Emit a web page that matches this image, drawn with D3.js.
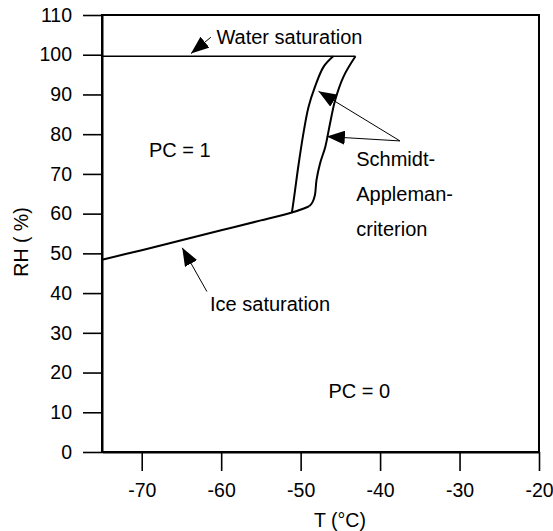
<!DOCTYPE html>
<html>
<head>
<meta charset="utf-8">
<script src="https://cdn.jsdelivr.net/npm/d3@7"></script>
<style>
  body { margin: 0; background: #fff; }
  text { font-family: "Liberation Sans", Arial, sans-serif; font-size: 19.5px; fill: #000; }
  .note { font-size: 20px; }
</style>
</head>
<body>
<svg id="chart" width="553" height="531"></svg>
<script>
// tick values
const xTicks = [-70, -60, -50, -40, -30, -20];
const yTicks = [0, 10, 20, 30, 40, 50, 60, 70, 80, 90, 100, 110];

// curves, [T (°C), RH (%)]
const waterSat = [[-75, 99.6], [-43.1, 99.6]];
const iceSat = [[-75, 48.4], [-70, 50.8], [-65, 53.3], [-60, 55.8], [-55, 58.3], [-51.1, 60.3], [-49.6, 61.3], [-48.9, 61.9]];
const saLeft = [[-51.1, 60.3], [-50.9, 63], [-50.7, 65.9], [-50.3, 71.8], [-49.65, 80.2], [-49.0, 86.9], [-48.2, 91.9], [-47.1, 97.0], [-45.9, 99.6]];
const saRight = [[-48.9, 61.9], [-48.5, 62.9], [-48.2, 64.7], [-48.0, 68.5], [-47.55, 72.7], [-46.9, 76.8], [-46.3, 82.7], [-45.65, 88.6], [-44.6, 94.5], [-43.1, 99.6]];

// annotation arrows: [tailT, tailRH, tipT, tipRH]
const arrows = [
    [-61.3, 104.4, -63.8, 100.3],
    [-61.8, 40.4, -64.9, 51.4],
    [-37.5, 78.3, -47.75, 90.8],
    [-37.5, 78.3, -46.7, 79.4]
];

// labels: [text, T, RH]
const labels = [
    ["Water saturation", -60.6, 102.8],
    ["Ice saturation", -61.4, 35.6],
    ["Schmidt-", -43.0, 72.0],
    ["Appleman-", -43.0, 63.2],
    ["criterion", -43.0, 54.4],
    ["PC = 1", -69.1, 74.3],
    ["PC = 0", -46.5, 13.5]
];

const width = 553, height = 531;
const margin = { top: 15, right: 14, bottom: 79, left: 102 };

const x = d3.scaleLinear()
    .domain([-75, -20])
    .range([margin.left, width - margin.right]);

const y = d3.scaleLinear()
    .domain([0, 110])
    .range([height - margin.bottom, margin.top]);

const svg = d3.select("#chart");

svg.append("defs").append("marker")
    .attr("id", "head")
    .attr("viewBox", "0 0 18 14")
    .attr("refX", 18)
    .attr("refY", 7)
    .attr("markerUnits", "userSpaceOnUse")
    .attr("markerWidth", 18)
    .attr("markerHeight", 14)
    .attr("orient", "auto")
    .append("path")
    .attr("d", "M0,0L18,7L0,14Z")
    .attr("fill", "#000");

// frame
svg.append("rect")
    .attr("x", x(-75))
    .attr("y", y(110))
    .attr("width", x(-20) - x(-75))
    .attr("height", y(0) - y(110))
    .attr("fill", "none")
    .attr("stroke", "#000")
    .attr("stroke-width", 2);

const xAxis = g => g
    .attr("transform", `translate(0,${y(0)})`)
    .call(d3.axisBottom(x).tickValues(xTicks).tickFormat(d => String(d)).tickSize(19).tickPadding(12).tickSizeOuter(0))
    .call(g => g.selectAll("line").attr("stroke-width", 1.6))
    .call(g => g.select(".domain").attr("stroke-width", 2));

const yAxis = g => g
    .attr("transform", `translate(${x(-75)},0)`)
    .call(d3.axisLeft(y).tickValues(yTicks).tickFormat(d => String(d)).tickSize(19).tickPadding(11).tickSizeOuter(0))
    .call(g => g.selectAll("line").attr("stroke-width", 1.6))
    .call(g => g.select(".domain").attr("stroke-width", 2));

svg.append("g").call(xAxis);
svg.append("g").call(yAxis);
svg.selectAll(".tick text").attr("font-family", null).attr("font-size", null);

const line = d3.line()
    .x(d => x(d[0]))
    .y(d => y(d[1]));

const smooth = d3.line()
    .x(d => x(d[0]))
    .y(d => y(d[1]))
    .curve(d3.curveCatmullRom);

svg.append("path")
    .attr("d", line(waterSat))
    .attr("fill", "none")
    .attr("stroke", "#000")
    .attr("stroke-width", 1.5);

svg.append("g")
    .attr("fill", "none")
    .attr("stroke", "#000")
    .attr("stroke-width", 2)
    .selectAll("path")
    .data([iceSat, saLeft, saRight])
    .join("path")
    .attr("d", d => smooth(d));

svg.append("g")
    .attr("stroke", "#000")
    .attr("stroke-width", 1)
    .selectAll("line")
    .data(arrows)
    .join("line")
    .attr("x1", d => x(d[0]))
    .attr("y1", d => y(d[1]))
    .attr("x2", d => x(d[2]))
    .attr("y2", d => y(d[3]))
    .attr("marker-end", "url(#head)");

svg.append("g")
    .selectAll("text")
    .data(labels)
    .join("text")
    .attr("class", "note")
    .attr("x", d => x(d[1]))
    .attr("y", d => y(d[2]))
    .text(d => d[0]);

svg.append("text")
    .attr("x", 340)
    .attr("y", 527)
    .attr("text-anchor", "middle")
    .text("T (°C)");

svg.append("text")
    .attr("transform", "translate(28,242) rotate(-90)")
    .attr("text-anchor", "middle")
    .text("RH ( %)");
</script>
</body>
</html>
